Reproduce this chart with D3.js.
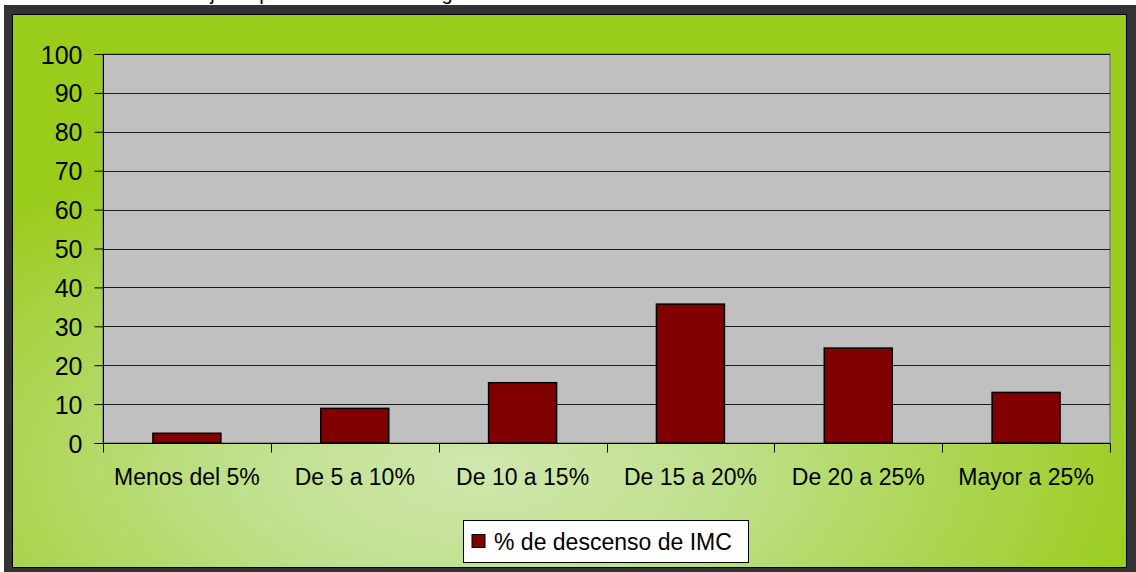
<!DOCTYPE html>
<html>
<head>
<meta charset="utf-8">
<script src="https://cdn.jsdelivr.net/npm/d3@7"></script>
<style>
  html, body { margin: 0; padding: 0; background: #ffffff; }
  svg { display: block; font-family: "Liberation Sans", Arial, sans-serif; }
</style>
</head>
<body>
<svg id="chart" width="1136" height="572"></svg>
<script>
// ---- data ----
const categories = ["Menos del 5%", "De 5 a 10%", "De 10 a 15%", "De 15 a 20%", "De 20 a 25%", "Mayor a 25%"];
const values = [2.5, 8.9, 15.5, 35.7, 24.4, 13.0];
const yTicks = [0, 10, 20, 30, 40, 50, 60, 70, 80, 90, 100];
const seriesName = "% de descenso de IMC";
const titleText = "Gráfico N° 5: Porcentaje de pacientes adultos según descenso de IMC";

const svg = d3.select("#chart");
const W = 1136, H = 572;

// background defs
const defs = svg.append("defs");
const rg = defs.append("radialGradient").attr("id", "bg")
  .attr("cx", "0.42").attr("cy", "0.82").attr("r", "0.62").attr("fx", "0.42").attr("fy", "0.82");
rg.append("stop").attr("offset", "0").attr("stop-color", "#d0e7ad");
rg.append("stop").attr("offset", "0.35").attr("stop-color", "#bfe08c");
rg.append("stop").attr("offset", "1").attr("stop-color", "#9acc1c");

// title (mostly cut off at the top, as in the reference)
svg.append("text").attr("x", 10).attr("y", -0.5)
  .attr("font-size", 20).attr("fill", "#000").text(titleText);

// outer dark frame
svg.append("rect").attr("x", 4).attr("y", 5).attr("width", W - 4).attr("height", H - 5).attr("fill", "#333333");
svg.append("rect").attr("x", 12.5).attr("y", 14.5).attr("width", 1114).attr("height", 553)
  .attr("fill", "url(#bg)").attr("stroke", "#000").attr("stroke-width", 1);

// plot area
const x0 = 103, x1 = 1110, yTop = 54, yBot = 443;
const x = d3.scaleBand().domain(categories).range([x0, x1]).padding(0);
const y = d3.scaleLinear().domain([0, 100]).range([yBot, yTop]);

svg.append("rect").attr("x", x0).attr("y", yTop).attr("width", x1 - x0).attr("height", yBot - yTop)
  .attr("fill", "#c0c0c0").attr("stroke", "#808080").attr("stroke-width", 1.5);

// gridlines
svg.append("g").selectAll("line").data(yTicks.filter(d => d > 0)).join("line")
  .attr("x1", x0).attr("x2", x1)
  .attr("y1", d => Math.round(y(d)) + 0.5).attr("y2", d => Math.round(y(d)) + 0.5)
  .attr("stroke", "#1a1a1a").attr("stroke-width", 1.2);

// bars
const bw = x.bandwidth() * 0.405;
svg.append("g").selectAll("rect").data(values).join("rect")
  .attr("x", (d, i) => x(categories[i]) + (x.bandwidth() - bw) / 2)
  .attr("y", d => y(d))
  .attr("width", bw)
  .attr("height", d => yBot - y(d))
  .attr("fill", "#800000").attr("stroke", "#000").attr("stroke-width", 1.5);

// y axis
const yAxis = d3.axisLeft(y).tickValues(yTicks).tickSize(9).tickPadding(12);
const gy = svg.append("g").attr("transform", `translate(${x0 + 0.5},0)`).call(yAxis);
gy.select(".domain").attr("stroke", "#000").attr("d", `M0,${yTop}V${yBot + 9}`);
gy.selectAll(".tick line").attr("stroke", "#000");
gy.selectAll(".tick text").attr("font-size", 25).attr("fill", "#000")
  .attr("font-family", "Liberation Sans, Arial, sans-serif").attr("dy", "0.36em");

// x axis
const xAxis = d3.axisBottom(x).tickSize(0).tickPadding(0);
const gx = svg.append("g").attr("transform", `translate(0,${yBot + 0.5})`).call(xAxis);
gx.select(".domain").attr("stroke", "#000").attr("d", `M${x0},0H${x1}`);
gx.selectAll(".tick text").attr("font-size", 23).attr("fill", "#000")
  .attr("font-family", "Liberation Sans, Arial, sans-serif").attr("y", 41).attr("dy", 0);
// category separator ticks
const bounds = categories.map(c => x(c)).concat([x1]);
gx.append("g").selectAll("line").data(bounds).join("line")
  .attr("x1", d => Math.round(d) + 0.5).attr("x2", d => Math.round(d) + 0.5)
  .attr("y1", 0).attr("y2", 9).attr("stroke", "#000");

// legend
const lg = svg.append("g").attr("transform", "translate(463.5,520.5)");
lg.append("rect").attr("width", 285).attr("height", 42).attr("fill", "#fff").attr("stroke", "#000").attr("stroke-width", 1);
lg.append("rect").attr("x", 8.5).attr("y", 14).attr("width", 13).attr("height", 13)
  .attr("fill", "#800000").attr("stroke", "#000").attr("stroke-width", 1);
lg.append("text").attr("x", 30.5).attr("y", 29).attr("font-size", 23).attr("fill", "#000").text(seriesName);
</script>
</body>
</html>
